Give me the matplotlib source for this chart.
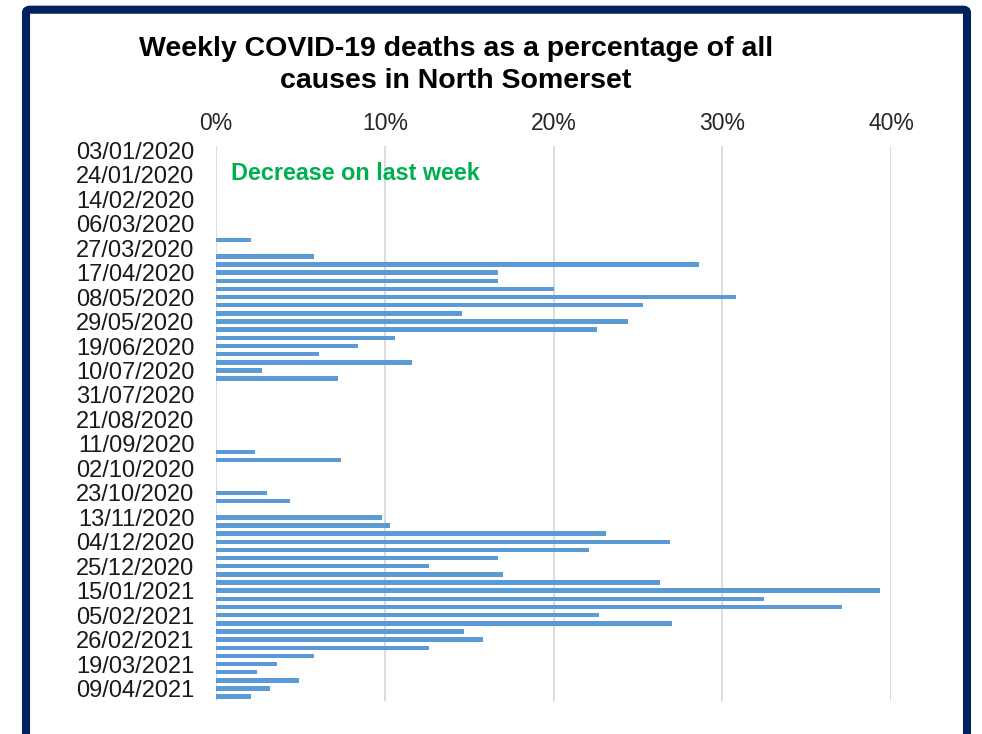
import numpy as np
import pandas as pd
import matplotlib
matplotlib.use("Agg")
import matplotlib.pyplot as plt
from matplotlib.patches import FancyBboxPatch

plt.rcParams["font.family"] = ["Liberation Sans", "DejaVu Sans"]

# weekly dates, Friday 03/01/2020 -> 16/04/2021
weeks = pd.date_range("2020-01-03", "2021-04-16", freq="7D")

# % of all-cause deaths that were COVID-19
pct = [0, 0, 0, 0, 0, 0, 0, 0, 0, 0, 0,            # 03/01 - 13/03
       2.1, 0, 5.8, 28.6, 16.7, 16.7, 20.0, 30.8,  # 20/03 - 08/05
       25.3, 14.6, 24.4, 22.6, 10.6, 8.4, 6.1,     # 15/05 - 26/06
       11.6, 2.7, 7.2,                             # 03/07 - 17/07
       0, 0, 0, 0, 0, 0, 0, 0,                     # 24/07 - 11/09
       2.3, 7.4, 0, 0, 0, 3.0, 4.4, 0,             # 18/09 - 06/11
       9.85, 10.3, 23.1, 26.9, 22.1, 16.7, 12.6,   # 13/11 - 25/12
       17.0, 26.3, 39.35, 32.5, 37.1, 22.7, 27.0,  # 01/01 - 12/02
       14.7, 15.8, 12.6, 5.8, 3.6, 2.4, 4.9,       # 19/02 - 02/04
       3.2, 2.05]                                  # 09/04 - 16/04

xticks = [0, 10, 20, 30, 40]
title = "Weekly COVID-19 deaths as a percentage of all\ncauses in North Somerset"
note = "Decrease on last week"

W, H = 982, 734
fig = plt.figure(figsize=(W / 100, H / 100), dpi=100)
ax = fig.add_axes([216 / W, 1 - 700.8 / H, (891 - 216) / W, (700.8 - 146.2) / H])

y = np.arange(len(weeks))
ax.barh(y, pct, height=0.55, color="#5b9bd5", zorder=3)
ax.set_ylim(len(weeks) - 0.5, -0.5)
ax.set_xlim(0, 40)

ax.set_xticks(xticks)
ax.set_xticklabels([f"{t}%" for t in xticks])
ax.xaxis.tick_top()
ax.tick_params(axis="x", length=0, pad=8, labelsize=16.5, colors="#262626")
lab_idx = y[::3]
ax.set_yticks(lab_idx)
ax.set_yticklabels([weeks[i].strftime("%d/%m/%Y") for i in lab_idx])
ax.tick_params(axis="y", length=0, pad=15.5, labelsize=17, colors="#1a1a1a")

ax.grid(axis="x", color="#d9d9d9", lw=1.3, zorder=0)
for s in ax.spines.values():
    s.set_visible(False)

fig.text(456 / W, 1 - 64.5 / H, title, ha="center", va="center",
         fontsize=20.5, fontweight="bold", linespacing=1.3)
ax.text(0.9, 2.8, note, ha="left", va="center", color="#00b050",
        fontsize=16.8, fontweight="bold")

# navy frame
frame = FancyBboxPatch((26 / W, -0.02), (967 - 26) / W, 1 - 9.7 / H + 0.02,
                       boxstyle="round,pad=0,rounding_size=0.004",
                       transform=fig.transFigure, fill=False,
                       edgecolor="#002060", lw=5.8, clip_on=False)
fig.patches.append(frame)

fig.savefig("out.png", dpi=100, facecolor="white")
